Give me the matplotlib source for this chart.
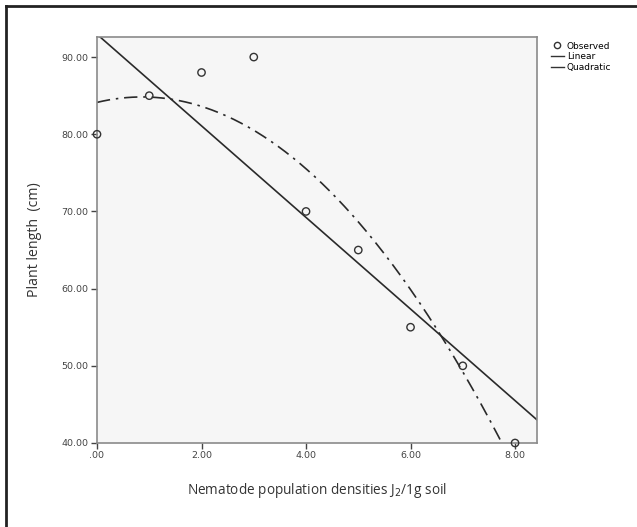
import matplotlib
matplotlib.use("Agg")
import matplotlib.pyplot as plt
import numpy as np
from matplotlib.lines import Line2D

# observed data
density = [0, 1, 2, 3, 4, 5, 6, 7, 8]
length = [80, 85, 88, 90, 70, 65, 55, 50, 40]
y_ticks = [40, 50, 60, 70, 80, 90]
x_ticks = [0, 2, 4, 6, 8]

x = np.array(density, dtype=float)
y = np.array(length, dtype=float)
lin = np.polyfit(x, y, 1)
quad = np.polyfit(x, y, 2)

fig = plt.figure(figsize=(6.37, 5.27), dpi=100)
# cropped frame of the original figure (top and left edges)
fig.add_artist(Line2D([6 / 637, 1], [1 - 6 / 527] * 2, color="#222222", lw=2))
fig.add_artist(Line2D([6 / 637] * 2, [0, 1 - 6 / 527], color="#222222", lw=2))

ax = fig.add_axes([97 / 637, 1 - 443 / 527, 440 / 637, 406 / 527])
ax.set_facecolor("#f6f6f6")
ax.set_xlim(0, 8.42)
ax.set_ylim(40, 92.6)

xs = np.linspace(0, 8.42, 300)
ax.plot(xs, np.polyval(lin, xs), color="#2a2a2a", lw=1.2)
ax.plot(xs, np.polyval(quad, xs), color="#2a2a2a", lw=1.2,
        dashes=(8, 3.5, 1.5, 3.5))
ax.scatter(x, y, s=28, facecolors="none", edgecolors="#333333",
           linewidths=1.0, zorder=3, clip_on=False)

for s in ax.spines.values():
    s.set_color("#8a8a8a")
    s.set_linewidth(1.2)

ax.set_xticks(x_ticks)
ax.set_xticklabels([".00" if v == 0 else f"{v:.2f}" for v in x_ticks])
ax.set_yticks(y_ticks)
ax.set_yticklabels([f"{v:.2f}" for v in y_ticks])
ax.tick_params(labelsize=6.8, colors="#444444", length=4, width=1, pad=2)

ax.set_xlabel("Nematode population densities J$_2$/1g soil", fontsize=9.8,
              color="#333333", family="Open Sans", labelpad=15)
ax.set_ylabel("Plant length  (cm)", fontsize=10.2, color="#333333",
              family="Open Sans", labelpad=14)

handles = [
    Line2D([], [], marker="o", ls="none", mfc="none", mec="#333333", ms=4.5, label="Observed"),
    Line2D([], [], color="#333333", lw=1, label="Linear"),
    Line2D([], [], color="#333333", lw=1, label="Quadratic"),
]
fig.legend(handles=handles, loc="upper left", bbox_to_anchor=(546 / 637, 1 - 37 / 527),
           frameon=False, fontsize=6.5, handlelength=1.5, handletextpad=0.3,
           labelspacing=0.2, borderpad=0)

plt.savefig("out.png", dpi=100)
plt.close()
